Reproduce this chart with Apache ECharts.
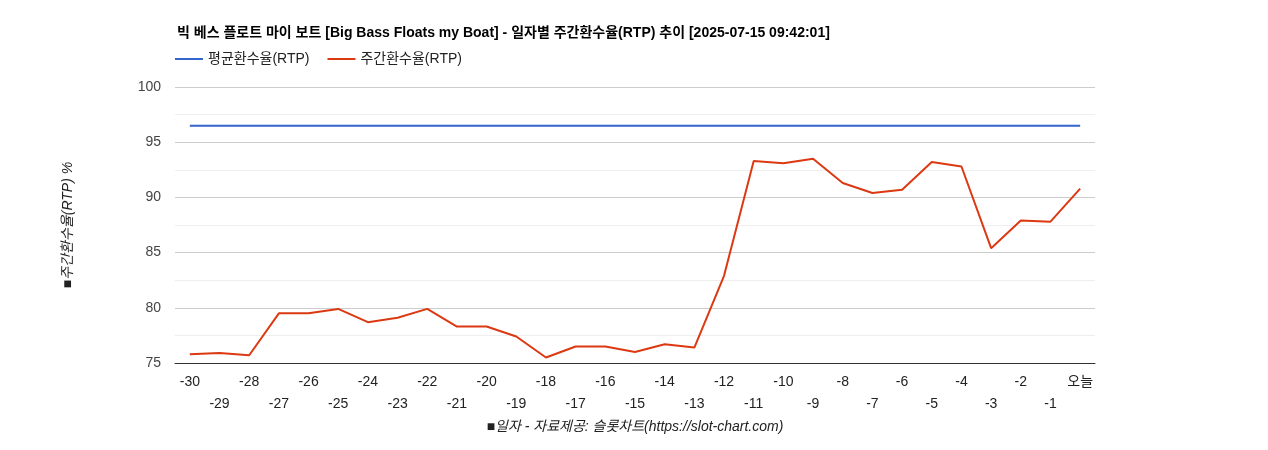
<!DOCTYPE html>
<html><head><meta charset="utf-8">
<script src="https://cdn.jsdelivr.net/npm/echarts@6/dist/echarts.min.js"></script>
<style>html,body{margin:0;padding:0;background:#fff}#c{width:1268px;height:450px}</style>
</head><body><div id="c"></div>
<script>
const categories = ['-30','-29','-28','-27','-26','-25','-24','-23','-22','-21','-20','-19','-18','-17','-16','-15','-14','-13','-12','-11','-10','-9','-8','-7','-6','-5','-4','-3','-2','-1','오늘'];
const weeklyRTP = [75.8,75.9,75.7,79.5,79.5,79.9,78.7,79.1,79.9,78.3,78.3,77.4,75.5,76.5,76.5,76.0,76.7,76.4,82.9,93.3,93.1,93.5,91.3,90.4,90.7,93.2,92.8,85.4,87.9,87.8,90.8];
const avgRTP = categories.map(() => 96.5);
const chart = echarts.init(document.getElementById('c'));
chart.setOption({
  animation:false,
  textStyle:{fontFamily:'"Liberation Sans", Arial, "Noto Sans CJK KR", sans-serif'},
  title:{text:'빅 베스 플로트 마이 보트 [Big Bass Floats my Boat] - 일자별 주간환수율(RTP) 추이 [2025-07-15 09:42:01]',left:172,top:21,textStyle:{fontSize:14,fontWeight:'bold',color:'#000'}},
  legend:{left:170,top:47,itemWidth:28,itemHeight:2,itemGap:18,icon:'rect',textStyle:{fontSize:14,color:'#222'},data:['평균환수율(RTP)','주간환수율(RTP)']},
  grid:{left:175,right:173,top:87,bottom:87},
  xAxis:{type:'category',data:categories,boundaryGap:true,
    name:'■일자 - 자료제공: 슬롯차트(https://slot-chart.com)',nameLocation:'middle',nameGap:57,
    nameTextStyle:{fontStyle:'italic',fontSize:14,color:'#222'},
    axisLine:{lineStyle:{color:'#333'}},axisTick:{show:false},
    axisLabel:{interval:0,fontSize:14,color:'#222',lineHeight:22,formatter:(v,i)=> i%2===1 ? '\n'+v : v}},
  yAxis:{type:'value',min:75,max:100,interval:5,
    name:'■주간환수율(RTP) %',nameLocation:'middle',nameGap:100,
    nameTextStyle:{fontStyle:'italic',fontSize:14,color:'#222'},
    axisLine:{show:false},axisTick:{show:false},
    axisLabel:{fontSize:14,color:'#444',margin:14},
    splitLine:{lineStyle:{color:'#ccc'}},
    minorTick:{show:false,splitNumber:2},minorSplitLine:{show:true,lineStyle:{color:'#eee'}}},
  series:[
    {name:'평균환수율(RTP)',type:'line',data:avgRTP,symbol:'none',lineStyle:{color:'#3366cc',width:2},itemStyle:{color:'#3366cc'}},
    {name:'주간환수율(RTP)',type:'line',data:weeklyRTP,symbol:'none',lineStyle:{color:'#dc3912',width:2},itemStyle:{color:'#dc3912'}}
  ]
});
</script></body></html>
